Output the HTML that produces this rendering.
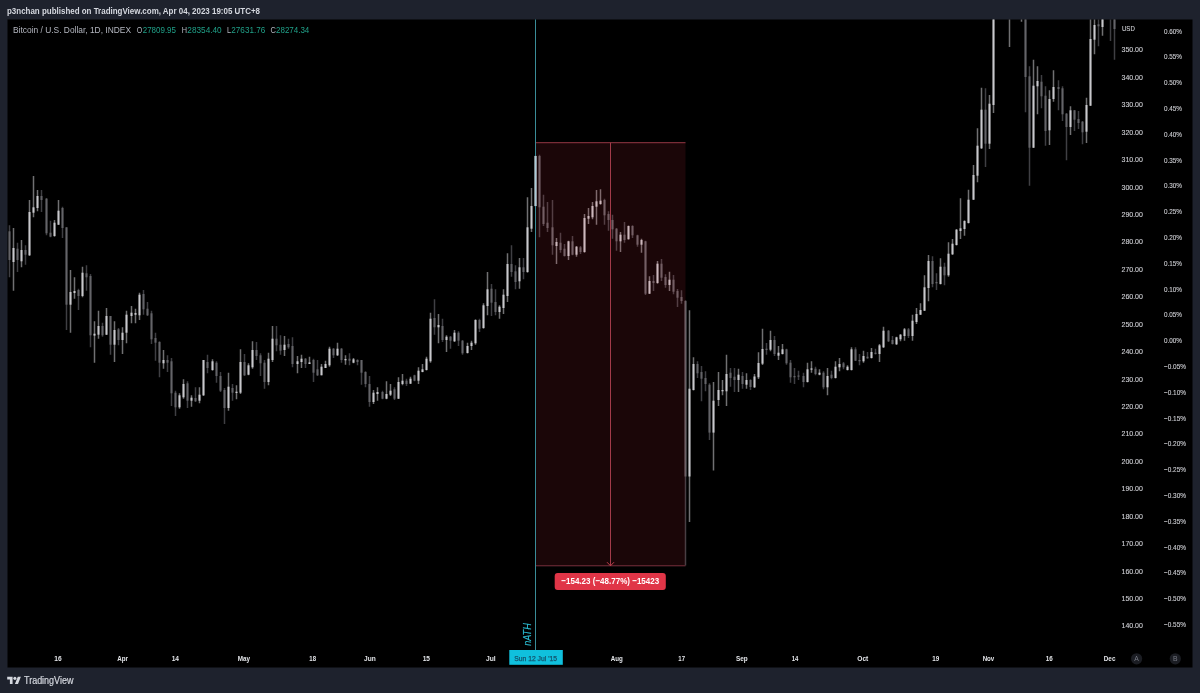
<!DOCTYPE html>
<html lang="en"><head><meta charset="utf-8"><title>BTCUSD chart</title>
<style>html,body{margin:0;padding:0;background:#1e222d;}body{width:1200px;height:693px;overflow:hidden;font-family:"Liberation Sans",sans-serif;}svg{display:block;will-change:transform;font-family:"Liberation Sans",sans-serif;}</style></head><body>
<svg width="1200" height="693" viewBox="0 0 1200 693">
<rect width="1200" height="693" fill="#1e222d"/>
<rect x="7.5" y="19.5" width="1185" height="648" fill="#000"/>
<defs><clipPath id="cc"><rect x="7.5" y="19.5" width="1109.5" height="648"/></clipPath></defs>
<path d="M535.5 142.7H685.5" fill="none" stroke="#903944" stroke-width="1"/><path d="M535.5 565.8H685.5" fill="none" stroke="#70303d" stroke-width="1"/>
<g clip-path="url(#cc)">
<path d="M9.5 225.3V277.3M17.5 242.7V272M25.5 245.3V264.7M41.5 190V212M46.5 198V235.3M50.5 220.7V237.3M62.5 206.7V238M66.5 227.3V330M78.5 288.7V310M86.5 265.3V290.7M90.5 274V347.3M102.5 322.7V336.7M110.5 316V354.7M118.5 328V345.3M143.5 290V314.7M147.5 302V316M151.5 310.7V344M155.5 332.7V360.7M159.5 341.3V377.3M167.5 355.3V372M171.5 358V406M175.5 390.7V416M187.5 381.3V408M195.5 387.3V402M207.5 354.7V373.3M216.5 361.3V382.7M220.5 372V392M224.5 388V424M232.5 384V400.7M244.5 354V376M256.5 342V360M260.5 353.3V376M264.5 360V388.7M276.5 326V351.3M280.5 335.3V354.7M288.5 338.7V348.7M292.5 337.3V367.3M305.5 358V368M313.5 358.7V382M317.5 360V376M333.5 348V358M341.5 348V362.7M349.5 353.3V365.3M357.5 359.3V365.3M361.5 360V384.7M365.5 371.3V387.3M369.5 376V406.7M382.5 390.7V399.3M394.5 387.3V400M406.5 378.7V386M414.5 374.7V381.3M434.5 299.3V334.7M442.5 318.7V342M450.5 336V348.7M458.5 331.3V346M462.5 340V354.7M479.5 318.7V332M491.5 284V316M495.5 289.3V315.3M511.5 245.3V276.7M515.5 265.3V289.3M523.5 258V279.3M539.5 154.7V237.3M543.5 194.7V226M547.5 202V232M552.5 200V254.7M560.5 232.7V252.7M564.5 244V256.5M572.5 236V255.3M580.5 246V254M604.5 198.7V224.7M608.5 211.3V230.7M612.5 214.7V238.7M616.5 228V250.7M624.5 222V242.7M632.5 225.3V238M637.5 234.7V246.7M645.5 240.7V295M653.5 275V291M661.5 259V281M665.5 274.3V287.7M673.5 275V294.3M677.5 289V307M681.5 290.3V303.7M685.5 300.3V565.6M697.5 361.3V378M701.5 366V401.3M705.5 371.3V391.3M709.5 383.3V440M730.5 368V386.7M734.5 368V392M742.5 372V388.7M750.5 379.3V390M766.5 343V354.7M774.5 336V356M786.5 348.7V364.7M790.5 360V382.7M794.5 368V384M798.5 370.7V380M803.5 372.7V387.3M815.5 366.7V375.3M823.5 371.3V389.3M831.5 370.7V379.3M843.5 362V369.3M855.5 347.3V361M859.5 354V365.3M867.5 352V358.7M875.5 348.7V354.5M888.5 330V342M892.5 336V344.5M908.5 328V338M932.5 256.3V287.3M936.5 273.3V290M944.5 262.7V285.3M985.5 88.3V167M1025.5 0V112.3M1029.5 66.3V185.7M1041.5 75V108.3M1045.5 86.3V145.7M1058.5 80.3V110.3M1062.5 86.3V121M1066.5 113V160.3M1074.5 110V131M1078.5 111V129M1082.5 121V144.3M1098.5 0V46.3M1110.5 0V41M1114.5 0V59.7" stroke="#3f3f43" stroke-width="1.5" fill="none"/>
<path d="M13.5 228V290.7M21.5 240V267.3M29.5 200V256M33.5 176V217.3M37.5 190V211.3M54.5 220V236.7M58.5 200V225M70.5 270V332.7M74.5 277.3V298.7M82.5 266.7V297.3M94.5 321.3V362.7M98.5 310.7V338.7M106.5 308V335M114.5 321.3V362M122.5 327.3V354M126.5 310.7V343.3M131.5 306V323.3M135.5 308.7V323.3M139.5 292.7V320M163.5 350V368.7M179.5 393.3V408.7M183.5 379.3V398.7M191.5 395.3V406.7M199.5 387.3V403.3M203.5 360V396M212.5 359.3V370.7M228.5 372.7V410.7M236.5 385.3V399.3M240.5 349.3V394M248.5 363.3V375.3M252.5 341.3V368.7M268.5 352.7V385.3M272.5 326V362M284.5 336V356M297.5 356V373.3M301.5 354.7V368M309.5 356.7V364M321.5 364V375.3M325.5 360.7V368M329.5 346.7V366.7M337.5 342.7V356M345.5 355.3V364.7M353.5 358V363.3M373.5 390V404M377.5 387.3V400.7M386.5 381.3V399.3M390.5 384V396M398.5 377.3V399M402.5 374V385.3M410.5 376.7V384M418.5 367.3V384M422.5 364V372.3M426.5 356.7V370.5M430.5 312.7V362.7M438.5 314V343.3M446.5 335.3V352M454.5 330V342M467.5 342.7V353.5M471.5 340.7V350M475.5 319.3V344.7M483.5 303.3V328.7M487.5 272V315.3M499.5 305.3V318.7M503.5 289.3V314M507.5 253.3V302M519.5 258V288.7M527.5 197.3V272.7M531.5 188V232M535.5 155.5V206.5M556.5 238V264M568.5 240.7V260M576.5 246V256.7M584.5 214V252.7M588.5 208V224M592.5 202V219.3M596.5 190V224.7M600.5 189.3V204.7M620.5 232V252M628.5 225.5V239.5M641.5 238.7V252.7M649.5 276.3V294M657.5 261V283.7M669.5 271.7V291M689.5 310.3V522M693.5 357.3V390.5M713.5 382V470.5M718.5 372V406M722.5 380V395.3M726.5 354.7V406M738.5 368.7V392M746.5 373.3V388.7M754.5 374V388M758.5 352.3V379M762.5 328.7V365M770.5 330.7V351.3M778.5 346V360M782.5 344V354.5M807.5 362.7V382.5M811.5 361.3V372.7M819.5 369.3V375.3M827.5 368V395.3M835.5 361.3V378.5M839.5 358V371.3M847.5 365.3V370.5M851.5 347.3V370.5M863.5 350.7V362.7M871.5 348V358.5M879.5 344V362M883.5 326.7V348M896.5 336.7V345M900.5 334V341.3M904.5 328V340.7M912.5 314.7V340.7M916.5 308V324M920.5 303.3V315M924.5 275.3V311M928.5 255V301.3M940.5 258.3V284.5M948.5 242.3V276.7M952.5 239V255M956.5 229V245.5M960.5 198.3V239M964.5 220.3V235.7M968.5 189.7V223.5M973.5 165V200M977.5 128.3V182.3M981.5 87.7V149M989.5 95V149M993.5 0V113M1009.5 0V47M1021.5 0V21.7M1033.5 59.7V148M1037.5 66.3V114.3M1049.5 90.3V145M1053.5 70.3V101.7M1070.5 106.3V135M1086.5 97.7V143M1090.5 0V106M1094.5 0V54.3M1102.5 0V35.7" stroke="#707072" stroke-width="1.5" fill="none"/>
<g fill="#646468"><rect x="8.5" y="231.3" width="2" height="28.7"/><rect x="16.5" y="248.7" width="2" height="11.3"/><rect x="24.5" y="250" width="2" height="4.7"/><rect x="40.5" y="196" width="2" height="4"/><rect x="45.5" y="198.7" width="2" height="34.6"/><rect x="49.5" y="232.7" width="2" height="4"/><rect x="61.5" y="208" width="2" height="20"/><rect x="65.5" y="227.3" width="2" height="77.4"/><rect x="77.5" y="290" width="2" height="6"/><rect x="85.5" y="273.3" width="2" height="4"/><rect x="89.5" y="276" width="2" height="59.3"/><rect x="101.5" y="326" width="2" height="9.3"/><rect x="109.5" y="316" width="2" height="28.7"/><rect x="117.5" y="329.3" width="2" height="10.7"/><rect x="142.5" y="294" width="2" height="15.3"/><rect x="146.5" y="308.7" width="2" height="6.6"/><rect x="150.5" y="313.3" width="2" height="26"/><rect x="154.5" y="338" width="2" height="4.7"/><rect x="158.5" y="342" width="2" height="20.7"/><rect x="166.5" y="360" width="2" height="2.7"/><rect x="170.5" y="361.3" width="2" height="32"/><rect x="174.5" y="392.7" width="2" height="14.6"/><rect x="186.5" y="383.3" width="2" height="17.4"/><rect x="194.5" y="398" width="2" height="3.3"/><rect x="206.5" y="362" width="2" height="6"/><rect x="215.5" y="362.7" width="2" height="13.3"/><rect x="219.5" y="376" width="2" height="14.7"/><rect x="223.5" y="390" width="2" height="18"/><rect x="231.5" y="388" width="2" height="4.7"/><rect x="243.5" y="362" width="2" height="13.3"/><rect x="255.5" y="350" width="2" height="6"/><rect x="259.5" y="355.3" width="2" height="8"/><rect x="263.5" y="362.7" width="2" height="19.3"/><rect x="275.5" y="338.7" width="2" height="6.6"/><rect x="279.5" y="344.7" width="2" height="6"/><rect x="287.5" y="344" width="2" height="3.3"/><rect x="291.5" y="346" width="2" height="18"/><rect x="304.5" y="358.7" width="2" height="5.3"/><rect x="312.5" y="360" width="2" height="12.7"/><rect x="316.5" y="369.3" width="2" height="6"/><rect x="332.5" y="348.7" width="2" height="6.6"/><rect x="340.5" y="348.7" width="2" height="11.3"/><rect x="348.5" y="358.7" width="2" height="2"/><rect x="356.5" y="360" width="2" height="2"/><rect x="360.5" y="360" width="2" height="12.7"/><rect x="364.5" y="372" width="2" height="12"/><rect x="368.5" y="384" width="2" height="18"/><rect x="381.5" y="392" width="2" height="6.7"/><rect x="393.5" y="389.3" width="2" height="9.4"/><rect x="405.5" y="380.7" width="2" height="3.3"/><rect x="413.5" y="375.3" width="2" height="5.4"/><rect x="433.5" y="318" width="2" height="9.3"/><rect x="441.5" y="326" width="2" height="14"/><rect x="449.5" y="336.7" width="2" height="4"/><rect x="457.5" y="332.7" width="2" height="8"/><rect x="461.5" y="340.7" width="2" height="12.6"/><rect x="478.5" y="320" width="2" height="8.7"/><rect x="490.5" y="288.7" width="2" height="14"/><rect x="494.5" y="302" width="2" height="10"/><rect x="510.5" y="264" width="2" height="8"/><rect x="514.5" y="271.3" width="2" height="10.7"/><rect x="522.5" y="267.3" width="2" height="4.7"/><rect x="538.5" y="156" width="2" height="51.3"/><rect x="542.5" y="206.7" width="2" height="17.3"/><rect x="546.5" y="222.7" width="2" height="5.3"/><rect x="551.5" y="227.3" width="2" height="18"/><rect x="559.5" y="242.7" width="2" height="7.3"/><rect x="563.5" y="248.7" width="2" height="7.3"/><rect x="571.5" y="241.3" width="2" height="13.4"/><rect x="579.5" y="247.3" width="2" height="4.7"/><rect x="603.5" y="200" width="2" height="15.3"/><rect x="607.5" y="214" width="2" height="6"/><rect x="611.5" y="220" width="2" height="9.3"/><rect x="615.5" y="228.7" width="2" height="12.6"/><rect x="623.5" y="234.7" width="2" height="5.3"/><rect x="631.5" y="226" width="2" height="9.3"/><rect x="636.5" y="235.3" width="2" height="9.4"/><rect x="644.5" y="241.3" width="2" height="52.4"/><rect x="652.5" y="281" width="2" height="2"/><rect x="660.5" y="263.7" width="2" height="14"/><rect x="664.5" y="277" width="2" height="8"/><rect x="672.5" y="279.7" width="2" height="12"/><rect x="676.5" y="291" width="2" height="6.7"/><rect x="680.5" y="297" width="2" height="4"/><rect x="684.5" y="301" width="2" height="175.5"/><rect x="696.5" y="364" width="2" height="9.3"/><rect x="700.5" y="372" width="2" height="6.7"/><rect x="704.5" y="378" width="2" height="6"/><rect x="708.5" y="384.7" width="2" height="47.9"/><rect x="729.5" y="372.7" width="2" height="5.3"/><rect x="733.5" y="376.7" width="2" height="3.3"/><rect x="741.5" y="376" width="2" height="8"/><rect x="749.5" y="380" width="2" height="7"/><rect x="765.5" y="348.7" width="2" height="1.3"/><rect x="773.5" y="340" width="2" height="14"/><rect x="785.5" y="349.3" width="2" height="14"/><rect x="789.5" y="362.7" width="2" height="14.6"/><rect x="793.5" y="376" width="2" height="1.3"/><rect x="797.5" y="375.5" width="2" height="1.2"/><rect x="802.5" y="376" width="2" height="6"/><rect x="814.5" y="368.7" width="2" height="5.3"/><rect x="822.5" y="372.7" width="2" height="14.6"/><rect x="830.5" y="374.7" width="2" height="3.3"/><rect x="842.5" y="363.3" width="2" height="4"/><rect x="854.5" y="349.3" width="2" height="11.4"/><rect x="858.5" y="360" width="2" height="1.3"/><rect x="866.5" y="356.7" width="2" height="1.6"/><rect x="874.5" y="352.7" width="2" height="1.3"/><rect x="887.5" y="330.7" width="2" height="10.6"/><rect x="891.5" y="340" width="2" height="4"/><rect x="907.5" y="329.3" width="2" height="6.7"/><rect x="931.5" y="261" width="2" height="23"/><rect x="935.5" y="282" width="2" height="1.3"/><rect x="943.5" y="266.7" width="2" height="8.6"/><rect x="984.5" y="109.7" width="2" height="34"/><rect x="1024.5" y="0" width="2" height="77"/><rect x="1028.5" y="76.3" width="2" height="71.4"/><rect x="1040.5" y="81.7" width="2" height="14.6"/><rect x="1044.5" y="95.7" width="2" height="35.3"/><rect x="1057.5" y="87" width="2" height="2"/><rect x="1061.5" y="88.3" width="2" height="26"/><rect x="1065.5" y="113.7" width="2" height="13.3"/><rect x="1073.5" y="110.3" width="2" height="9.4"/><rect x="1077.5" y="119" width="2" height="4"/><rect x="1081.5" y="121.7" width="2" height="10.6"/><rect x="1097.5" y="24.3" width="2" height="2"/><rect x="1113.5" y="0" width="2" height="29"/></g>
<g fill="#c8c8cc"><rect x="12.5" y="248" width="2" height="14"/><rect x="20.5" y="250" width="2" height="11.3"/><rect x="28.5" y="212" width="2" height="43.3"/><rect x="32.5" y="207.3" width="2" height="5.4"/><rect x="36.5" y="196" width="2" height="12"/><rect x="53.5" y="222.7" width="2" height="13.3"/><rect x="57.5" y="210.7" width="2" height="14"/><rect x="69.5" y="292" width="2" height="12.7"/><rect x="73.5" y="291" width="2" height="2"/><rect x="81.5" y="272.7" width="2" height="23.3"/><rect x="93.5" y="333.7" width="2" height="1.9"/><rect x="97.5" y="326" width="2" height="8.7"/><rect x="105.5" y="316" width="2" height="18.7"/><rect x="113.5" y="330" width="2" height="14.7"/><rect x="121.5" y="332.7" width="2" height="7.3"/><rect x="125.5" y="314.7" width="2" height="18"/><rect x="130.5" y="312.7" width="2" height="3.3"/><rect x="134.5" y="313" width="2" height="1.8"/><rect x="138.5" y="294.7" width="2" height="20.6"/><rect x="162.5" y="360" width="2" height="3.3"/><rect x="178.5" y="395.3" width="2" height="12"/><rect x="182.5" y="384" width="2" height="13.3"/><rect x="190.5" y="397.7" width="2" height="3"/><rect x="198.5" y="394.7" width="2" height="6"/><rect x="202.5" y="360" width="2" height="35.3"/><rect x="211.5" y="361.3" width="2" height="8.7"/><rect x="227.5" y="386.7" width="2" height="21.3"/><rect x="235.5" y="391.7" width="2" height="1.3"/><rect x="239.5" y="362" width="2" height="30.7"/><rect x="247.5" y="365.3" width="2" height="9.4"/><rect x="251.5" y="350" width="2" height="17.3"/><rect x="267.5" y="358.7" width="2" height="23.3"/><rect x="271.5" y="338.7" width="2" height="21.3"/><rect x="283.5" y="344.7" width="2" height="5.3"/><rect x="296.5" y="361.3" width="2" height="2.7"/><rect x="300.5" y="358.7" width="2" height="3.3"/><rect x="308.5" y="362.4" width="2" height="1.6"/><rect x="320.5" y="366.7" width="2" height="8.6"/><rect x="324.5" y="364" width="2" height="4"/><rect x="328.5" y="348.7" width="2" height="16.6"/><rect x="336.5" y="348.7" width="2" height="6.6"/><rect x="344.5" y="359" width="2" height="1.3"/><rect x="352.5" y="359.3" width="2" height="3.4"/><rect x="372.5" y="392.7" width="2" height="9.3"/><rect x="376.5" y="392" width="2" height="2"/><rect x="385.5" y="394" width="2" height="4.7"/><rect x="389.5" y="390.7" width="2" height="4"/><rect x="397.5" y="382" width="2" height="16.7"/><rect x="401.5" y="380.7" width="2" height="3.3"/><rect x="409.5" y="378.7" width="2" height="5"/><rect x="417.5" y="370.7" width="2" height="10"/><rect x="421.5" y="369.3" width="2" height="2.7"/><rect x="425.5" y="358.7" width="2" height="11.3"/><rect x="429.5" y="318.7" width="2" height="42.6"/><rect x="437.5" y="325" width="2" height="2.3"/><rect x="445.5" y="336.7" width="2" height="3.3"/><rect x="453.5" y="332.7" width="2" height="8.6"/><rect x="466.5" y="346" width="2" height="7"/><rect x="470.5" y="342.7" width="2" height="3.3"/><rect x="474.5" y="320" width="2" height="23.3"/><rect x="482.5" y="305.3" width="2" height="22.7"/><rect x="486.5" y="289.3" width="2" height="16.7"/><rect x="498.5" y="306.7" width="2" height="5.3"/><rect x="502.5" y="294.7" width="2" height="13.3"/><rect x="506.5" y="264" width="2" height="32"/><rect x="518.5" y="267.3" width="2" height="14"/><rect x="526.5" y="227.3" width="2" height="44.7"/><rect x="530.5" y="206" width="2" height="22.7"/><rect x="534.5" y="156" width="2" height="50"/><rect x="555.5" y="242" width="2" height="4"/><rect x="567.5" y="241.3" width="2" height="14.7"/><rect x="575.5" y="246.7" width="2" height="8"/><rect x="583.5" y="218" width="2" height="34"/><rect x="587.5" y="216" width="2" height="2.7"/><rect x="591.5" y="206" width="2" height="11.3"/><rect x="595.5" y="201.3" width="2" height="5.4"/><rect x="599.5" y="200.7" width="2" height="3.3"/><rect x="619.5" y="234.7" width="2" height="6.6"/><rect x="627.5" y="226" width="2" height="13.3"/><rect x="640.5" y="240" width="2" height="4.7"/><rect x="648.5" y="281" width="2" height="12.7"/><rect x="656.5" y="263.7" width="2" height="19.3"/><rect x="668.5" y="279.7" width="2" height="5.3"/><rect x="688.5" y="388.7" width="2" height="87.8"/><rect x="692.5" y="364" width="2" height="26"/><rect x="712.5" y="400.7" width="2" height="31.9"/><rect x="717.5" y="390" width="2" height="10"/><rect x="721.5" y="390" width="2" height="1.3"/><rect x="725.5" y="374" width="2" height="17.3"/><rect x="737.5" y="374.7" width="2" height="5.3"/><rect x="745.5" y="380" width="2" height="4.7"/><rect x="753.5" y="376.5" width="2" height="10.8"/><rect x="757.5" y="363" width="2" height="14.3"/><rect x="761.5" y="349" width="2" height="14.7"/><rect x="769.5" y="340" width="2" height="9.7"/><rect x="777.5" y="352.7" width="2" height="3"/><rect x="781.5" y="349.3" width="2" height="4.7"/><rect x="806.5" y="369.3" width="2" height="12.7"/><rect x="810.5" y="368.4" width="2" height="1.3"/><rect x="818.5" y="372.7" width="2" height="2"/><rect x="826.5" y="376" width="2" height="11.3"/><rect x="834.5" y="366.7" width="2" height="11.3"/><rect x="838.5" y="364" width="2" height="3.3"/><rect x="846.5" y="366.7" width="2" height="3.3"/><rect x="850.5" y="349.3" width="2" height="20.7"/><rect x="862.5" y="356" width="2" height="5.3"/><rect x="870.5" y="352" width="2" height="6"/><rect x="878.5" y="345.3" width="2" height="8.7"/><rect x="882.5" y="330.7" width="2" height="16.6"/><rect x="895.5" y="337.3" width="2" height="7"/><rect x="899.5" y="334.7" width="2" height="4.6"/><rect x="903.5" y="329.3" width="2" height="6.7"/><rect x="911.5" y="320.7" width="2" height="15.3"/><rect x="915.5" y="314" width="2" height="8"/><rect x="919.5" y="310" width="2" height="4.7"/><rect x="923.5" y="287.3" width="2" height="23.4"/><rect x="927.5" y="261" width="2" height="27"/><rect x="939.5" y="266.7" width="2" height="17.3"/><rect x="947.5" y="253.7" width="2" height="21.6"/><rect x="951.5" y="243.7" width="2" height="10.6"/><rect x="955.5" y="229.7" width="2" height="15.3"/><rect x="959.5" y="228.3" width="2" height="2.7"/><rect x="963.5" y="221" width="2" height="8"/><rect x="967.5" y="199.7" width="2" height="23.3"/><rect x="972.5" y="175" width="2" height="24.7"/><rect x="976.5" y="145.7" width="2" height="30"/><rect x="980.5" y="109.7" width="2" height="38.6"/><rect x="988.5" y="103.7" width="2" height="40"/><rect x="992.5" y="0" width="2" height="105"/><rect x="1032.5" y="85.7" width="2" height="62"/><rect x="1036.5" y="81" width="2" height="5.3"/><rect x="1048.5" y="99" width="2" height="31.3"/><rect x="1052.5" y="87" width="2" height="12"/><rect x="1069.5" y="110.3" width="2" height="16.7"/><rect x="1085.5" y="105" width="2" height="26.7"/><rect x="1089.5" y="39" width="2" height="66.7"/><rect x="1093.5" y="25" width="2" height="14.7"/><rect x="1101.5" y="0" width="2" height="27"/></g>
</g>
<rect x="535.5" y="142.7" width="150" height="423.1" fill="rgba(242,54,69,0.11)"/>
<path d="M610.5 142.7V565.8" stroke="#a23b49" stroke-width="1" fill="none"/><path d="M607 562.2L610.5 565.8L614 562.2" stroke="#c23e4c" stroke-width="1" fill="none"/>
<path d="M535.5 19.5V650" stroke="#3a8c98" stroke-width="1" fill="none"/>
<path d="M535.6 156V206" stroke="#a9ccd9" stroke-width="1.6" fill="none"/>
<rect x="554.7" y="573" width="111.1" height="17" rx="3" fill="#e03547"/>
<text x="561.3" y="584.4" font-size="9.5" fill="#ffffff" textLength="97.9" lengthAdjust="spacingAndGlyphs" font-weight="bold">&#8722;154.23 (&#8722;48.77%) &#8722;15423</text>
<g transform="translate(530.5 645.8) rotate(-90)">
<text x="0" y="0" font-size="10.5" fill="#2bbdd3" textLength="22.5" lengthAdjust="spacingAndGlyphs" font-style="italic" stroke="#2bbdd3" stroke-width="0.15">nATH</text>
</g>
<rect x="509.3" y="650" width="53.5" height="14.8" fill="#10c0dd"/>
<text x="514.2" y="660.9" font-size="7.6" fill="#14506a" textLength="42.8" lengthAdjust="spacingAndGlyphs" stroke="#14506a" stroke-width="0.25">Sun 12 Jul '15</text>
<text x="7" y="14.1" font-size="9.4" fill="#d5d8df" textLength="253" lengthAdjust="spacingAndGlyphs" font-weight="bold">p3nchan published on TradingView.com, Apr 04, 2023 19:05 UTC+8</text>
<text x="13" y="32.6" font-size="9" fill="#b4b7c0" textLength="118" lengthAdjust="spacingAndGlyphs">Bitcoin / U.S. Dollar, 1D, INDEX</text>
<text x="136.8" y="32.6" font-size="9" fill="#b4b7c0" textLength="5.5" lengthAdjust="spacingAndGlyphs">O</text>
<text x="142.7" y="32.6" font-size="9" fill="#20a088" textLength="33.3" lengthAdjust="spacingAndGlyphs">27809.95</text>
<text x="181.7" y="32.6" font-size="9" fill="#b4b7c0" textLength="5.3" lengthAdjust="spacingAndGlyphs">H</text>
<text x="187.3" y="32.6" font-size="9" fill="#20a088" textLength="34.4" lengthAdjust="spacingAndGlyphs">28354.40</text>
<text x="227" y="32.6" font-size="9" fill="#b4b7c0" textLength="4" lengthAdjust="spacingAndGlyphs">L</text>
<text x="231.3" y="32.6" font-size="9" fill="#20a088" textLength="34" lengthAdjust="spacingAndGlyphs">27631.76</text>
<text x="270.4" y="32.6" font-size="9" fill="#b4b7c0" textLength="5.4" lengthAdjust="spacingAndGlyphs">C</text>
<text x="276" y="32.6" font-size="9" fill="#20a088" textLength="33.3" lengthAdjust="spacingAndGlyphs">28274.34</text>
<text x="1122" y="30.6" font-size="7.6" fill="#cdced3" textLength="12.8" lengthAdjust="spacingAndGlyphs" stroke="#cdced3" stroke-width="0.12">USD</text>
<text x="1121.5" y="52.4" font-size="8" fill="#cdced3" textLength="21.4" lengthAdjust="spacingAndGlyphs" stroke="#cdced3" stroke-width="0.12">350.00</text>
<text x="1121.5" y="79.83" font-size="8" fill="#cdced3" textLength="21.4" lengthAdjust="spacingAndGlyphs" stroke="#cdced3" stroke-width="0.12">340.00</text>
<text x="1121.5" y="107.26" font-size="8" fill="#cdced3" textLength="21.4" lengthAdjust="spacingAndGlyphs" stroke="#cdced3" stroke-width="0.12">330.00</text>
<text x="1121.5" y="134.69" font-size="8" fill="#cdced3" textLength="21.4" lengthAdjust="spacingAndGlyphs" stroke="#cdced3" stroke-width="0.12">320.00</text>
<text x="1121.5" y="162.12" font-size="8" fill="#cdced3" textLength="21.4" lengthAdjust="spacingAndGlyphs" stroke="#cdced3" stroke-width="0.12">310.00</text>
<text x="1121.5" y="189.55" font-size="8" fill="#cdced3" textLength="21.4" lengthAdjust="spacingAndGlyphs" stroke="#cdced3" stroke-width="0.12">300.00</text>
<text x="1121.5" y="216.98" font-size="8" fill="#cdced3" textLength="21.4" lengthAdjust="spacingAndGlyphs" stroke="#cdced3" stroke-width="0.12">290.00</text>
<text x="1121.5" y="244.41" font-size="8" fill="#cdced3" textLength="21.4" lengthAdjust="spacingAndGlyphs" stroke="#cdced3" stroke-width="0.12">280.00</text>
<text x="1121.5" y="271.84" font-size="8" fill="#cdced3" textLength="21.4" lengthAdjust="spacingAndGlyphs" stroke="#cdced3" stroke-width="0.12">270.00</text>
<text x="1121.5" y="299.27" font-size="8" fill="#cdced3" textLength="21.4" lengthAdjust="spacingAndGlyphs" stroke="#cdced3" stroke-width="0.12">260.00</text>
<text x="1121.5" y="326.7" font-size="8" fill="#cdced3" textLength="21.4" lengthAdjust="spacingAndGlyphs" stroke="#cdced3" stroke-width="0.12">250.00</text>
<text x="1121.5" y="354.13" font-size="8" fill="#cdced3" textLength="21.4" lengthAdjust="spacingAndGlyphs" stroke="#cdced3" stroke-width="0.12">240.00</text>
<text x="1121.5" y="381.56" font-size="8" fill="#cdced3" textLength="21.4" lengthAdjust="spacingAndGlyphs" stroke="#cdced3" stroke-width="0.12">230.00</text>
<text x="1121.5" y="408.99" font-size="8" fill="#cdced3" textLength="21.4" lengthAdjust="spacingAndGlyphs" stroke="#cdced3" stroke-width="0.12">220.00</text>
<text x="1121.5" y="436.42" font-size="8" fill="#cdced3" textLength="21.4" lengthAdjust="spacingAndGlyphs" stroke="#cdced3" stroke-width="0.12">210.00</text>
<text x="1121.5" y="463.85" font-size="8" fill="#cdced3" textLength="21.4" lengthAdjust="spacingAndGlyphs" stroke="#cdced3" stroke-width="0.12">200.00</text>
<text x="1121.5" y="491.28" font-size="8" fill="#cdced3" textLength="21.4" lengthAdjust="spacingAndGlyphs" stroke="#cdced3" stroke-width="0.12">190.00</text>
<text x="1121.5" y="518.71" font-size="8" fill="#cdced3" textLength="21.4" lengthAdjust="spacingAndGlyphs" stroke="#cdced3" stroke-width="0.12">180.00</text>
<text x="1121.5" y="546.14" font-size="8" fill="#cdced3" textLength="21.4" lengthAdjust="spacingAndGlyphs" stroke="#cdced3" stroke-width="0.12">170.00</text>
<text x="1121.5" y="573.57" font-size="8" fill="#cdced3" textLength="21.4" lengthAdjust="spacingAndGlyphs" stroke="#cdced3" stroke-width="0.12">160.00</text>
<text x="1121.5" y="601" font-size="8" fill="#cdced3" textLength="21.4" lengthAdjust="spacingAndGlyphs" stroke="#cdced3" stroke-width="0.12">150.00</text>
<text x="1121.5" y="628.43" font-size="8" fill="#cdced3" textLength="21.4" lengthAdjust="spacingAndGlyphs" stroke="#cdced3" stroke-width="0.12">140.00</text>
<text x="1164" y="33.5" font-size="8" fill="#cdced3" textLength="18" lengthAdjust="spacingAndGlyphs" stroke="#cdced3" stroke-width="0.12">0.60%</text>
<text x="1164" y="59.3" font-size="8" fill="#cdced3" textLength="18" lengthAdjust="spacingAndGlyphs" stroke="#cdced3" stroke-width="0.12">0.55%</text>
<text x="1164" y="85.1" font-size="8" fill="#cdced3" textLength="18" lengthAdjust="spacingAndGlyphs" stroke="#cdced3" stroke-width="0.12">0.50%</text>
<text x="1164" y="110.9" font-size="8" fill="#cdced3" textLength="18" lengthAdjust="spacingAndGlyphs" stroke="#cdced3" stroke-width="0.12">0.45%</text>
<text x="1164" y="136.7" font-size="8" fill="#cdced3" textLength="18" lengthAdjust="spacingAndGlyphs" stroke="#cdced3" stroke-width="0.12">0.40%</text>
<text x="1164" y="162.5" font-size="8" fill="#cdced3" textLength="18" lengthAdjust="spacingAndGlyphs" stroke="#cdced3" stroke-width="0.12">0.35%</text>
<text x="1164" y="188.3" font-size="8" fill="#cdced3" textLength="18" lengthAdjust="spacingAndGlyphs" stroke="#cdced3" stroke-width="0.12">0.30%</text>
<text x="1164" y="214.1" font-size="8" fill="#cdced3" textLength="18" lengthAdjust="spacingAndGlyphs" stroke="#cdced3" stroke-width="0.12">0.25%</text>
<text x="1164" y="239.9" font-size="8" fill="#cdced3" textLength="18" lengthAdjust="spacingAndGlyphs" stroke="#cdced3" stroke-width="0.12">0.20%</text>
<text x="1164" y="265.7" font-size="8" fill="#cdced3" textLength="18" lengthAdjust="spacingAndGlyphs" stroke="#cdced3" stroke-width="0.12">0.15%</text>
<text x="1164" y="291.5" font-size="8" fill="#cdced3" textLength="18" lengthAdjust="spacingAndGlyphs" stroke="#cdced3" stroke-width="0.12">0.10%</text>
<text x="1164" y="317.3" font-size="8" fill="#cdced3" textLength="18" lengthAdjust="spacingAndGlyphs" stroke="#cdced3" stroke-width="0.12">0.05%</text>
<text x="1164" y="343.1" font-size="8" fill="#cdced3" textLength="18" lengthAdjust="spacingAndGlyphs" stroke="#cdced3" stroke-width="0.12">0.00%</text>
<text x="1164" y="368.9" font-size="8" fill="#cdced3" textLength="22" lengthAdjust="spacingAndGlyphs" stroke="#cdced3" stroke-width="0.12">&#8722;0.05%</text>
<text x="1164" y="394.7" font-size="8" fill="#cdced3" textLength="22" lengthAdjust="spacingAndGlyphs" stroke="#cdced3" stroke-width="0.12">&#8722;0.10%</text>
<text x="1164" y="420.5" font-size="8" fill="#cdced3" textLength="22" lengthAdjust="spacingAndGlyphs" stroke="#cdced3" stroke-width="0.12">&#8722;0.15%</text>
<text x="1164" y="446.3" font-size="8" fill="#cdced3" textLength="22" lengthAdjust="spacingAndGlyphs" stroke="#cdced3" stroke-width="0.12">&#8722;0.20%</text>
<text x="1164" y="472.1" font-size="8" fill="#cdced3" textLength="22" lengthAdjust="spacingAndGlyphs" stroke="#cdced3" stroke-width="0.12">&#8722;0.25%</text>
<text x="1164" y="497.9" font-size="8" fill="#cdced3" textLength="22" lengthAdjust="spacingAndGlyphs" stroke="#cdced3" stroke-width="0.12">&#8722;0.30%</text>
<text x="1164" y="523.7" font-size="8" fill="#cdced3" textLength="22" lengthAdjust="spacingAndGlyphs" stroke="#cdced3" stroke-width="0.12">&#8722;0.35%</text>
<text x="1164" y="549.5" font-size="8" fill="#cdced3" textLength="22" lengthAdjust="spacingAndGlyphs" stroke="#cdced3" stroke-width="0.12">&#8722;0.40%</text>
<text x="1164" y="575.3" font-size="8" fill="#cdced3" textLength="22" lengthAdjust="spacingAndGlyphs" stroke="#cdced3" stroke-width="0.12">&#8722;0.45%</text>
<text x="1164" y="601.1" font-size="8" fill="#cdced3" textLength="22" lengthAdjust="spacingAndGlyphs" stroke="#cdced3" stroke-width="0.12">&#8722;0.50%</text>
<text x="1164" y="626.9" font-size="8" fill="#cdced3" textLength="22" lengthAdjust="spacingAndGlyphs" stroke="#cdced3" stroke-width="0.12">&#8722;0.55%</text>
<text x="54.3" y="661.2" font-size="7" fill="#e4e6ea" textLength="7.4" lengthAdjust="spacingAndGlyphs" font-weight="bold">16</text>
<text x="117.3" y="661.2" font-size="7" fill="#e4e6ea" textLength="10.7" lengthAdjust="spacingAndGlyphs" font-weight="bold">Apr</text>
<text x="171.7" y="661.2" font-size="7" fill="#e4e6ea" textLength="7.3" lengthAdjust="spacingAndGlyphs" font-weight="bold">14</text>
<text x="237.7" y="661.2" font-size="7" fill="#e4e6ea" textLength="12.3" lengthAdjust="spacingAndGlyphs" font-weight="bold">May</text>
<text x="309.3" y="661.2" font-size="7" fill="#e4e6ea" textLength="6.7" lengthAdjust="spacingAndGlyphs" font-weight="bold">18</text>
<text x="364" y="661.2" font-size="7" fill="#e4e6ea" textLength="11.7" lengthAdjust="spacingAndGlyphs" font-weight="bold">Jun</text>
<text x="422.7" y="661.2" font-size="7" fill="#e4e6ea" textLength="7.3" lengthAdjust="spacingAndGlyphs" font-weight="bold">15</text>
<text x="486" y="661.2" font-size="7" fill="#e4e6ea" textLength="9.7" lengthAdjust="spacingAndGlyphs" font-weight="bold">Jul</text>
<text x="610.7" y="661.2" font-size="7" fill="#e4e6ea" textLength="12" lengthAdjust="spacingAndGlyphs" font-weight="bold">Aug</text>
<text x="678.3" y="661.2" font-size="7" fill="#e4e6ea" textLength="6.7" lengthAdjust="spacingAndGlyphs" font-weight="bold">17</text>
<text x="736" y="661.2" font-size="7" fill="#e4e6ea" textLength="11.7" lengthAdjust="spacingAndGlyphs" font-weight="bold">Sep</text>
<text x="791.7" y="661.2" font-size="7" fill="#e4e6ea" textLength="6.6" lengthAdjust="spacingAndGlyphs" font-weight="bold">14</text>
<text x="857.3" y="661.2" font-size="7" fill="#e4e6ea" textLength="11" lengthAdjust="spacingAndGlyphs" font-weight="bold">Oct</text>
<text x="932.3" y="661.2" font-size="7" fill="#e4e6ea" textLength="7" lengthAdjust="spacingAndGlyphs" font-weight="bold">19</text>
<text x="982.7" y="661.2" font-size="7" fill="#e4e6ea" textLength="11.6" lengthAdjust="spacingAndGlyphs" font-weight="bold">Nov</text>
<text x="1045.7" y="661.2" font-size="7" fill="#e4e6ea" textLength="7" lengthAdjust="spacingAndGlyphs" font-weight="bold">16</text>
<g clip-path="url(#cc)">
<text x="1103.8" y="661.2" font-size="7" fill="#e4e6ea" textLength="11.6" lengthAdjust="spacingAndGlyphs" font-weight="bold">Dec</text>
</g>
<circle cx="1136.6" cy="658.8" r="5.6" fill="#1b1d23"/>
<text x="1136.6" y="661.1" font-size="6.8" fill="#777a84" text-anchor="middle">A</text>
<circle cx="1175.3" cy="658.8" r="5.6" fill="#1b1d23"/>
<text x="1175.3" y="661.1" font-size="6.8" fill="#777a84" text-anchor="middle">B</text>
<g transform="translate(7.2 675.1) scale(0.385 0.40)" fill="#d5d8df"><path d="M14 22H7V11H0V4h14v18zM28 22h-8l7.5-18h8L28 22z"/><circle cx="20" cy="8" r="4"/></g>
<text x="24" y="683.8" font-size="10.3" fill="#d5d8df" textLength="49.4" lengthAdjust="spacingAndGlyphs" stroke="#d5d8df" stroke-width="0.2">TradingView</text>
</svg></body></html>
